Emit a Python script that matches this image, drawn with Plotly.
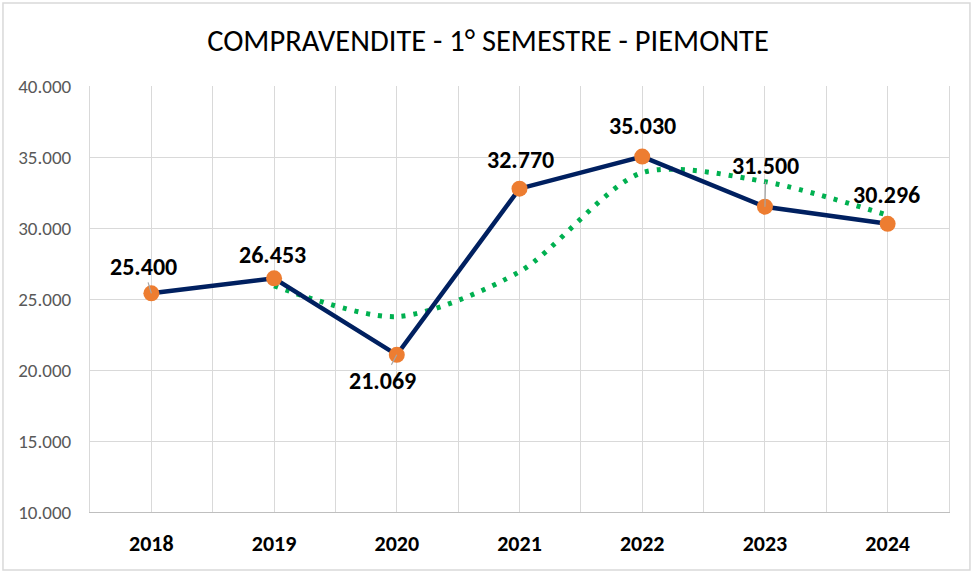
import plotly.graph_objects as go

years = [2018, 2019, 2020, 2021, 2022, 2023, 2024]
sales = [25400, 26453, 21069, 32770, 35030, 31500, 30296]
# media mobile (2 periodi)
trend_years = [2019, 2020, 2021, 2022, 2023, 2024]
trend = [25927, 23761, 26920, 33900, 33265, 30898]
labels = ["25.400", "26.453", "21.069", "32.770", "35.030", "31.500", "30.296"]
y_ticks = [10000, 15000, 20000, 25000, 30000, 35000, 40000]
y_ticktext = ["10.000", "15.000", "20.000", "25.000", "30.000", "35.000", "40.000"]

NAVY = "#002060"
ORANGE = "#ED7D31"
GREEN = "#00B050"
GRID = "#D9D9D9"
FONT = "Carlito, Calibri, 'Noto Sans', sans-serif"

fig = go.Figure()

fig.add_trace(go.Scatter(
    x=trend_years, y=trend,
    mode="lines",
    line=dict(color=GREEN, width=5, dash="4px,8px", shape="spline", smoothing=0.8),
    hoverinfo="skip",
))

fig.add_trace(go.Scatter(
    x=years, y=sales,
    mode="lines+markers",
    line=dict(color=NAVY, width=4.5),
    marker=dict(color=ORANGE, size=16),
))

# etichette dati (offset in pixel, linee guida dove Excel le mostra)
offsets = [(-8, -27), (-2, -24), (-14, 26), (1, -29), (0, -31), (1, -41), (-1, -29)]
leader = [True, False, True, False, False, True, False]
for x, y, t, (dx, dy), ld in zip(years, sales, labels, offsets, leader):
    fig.add_annotation(
        x=x, y=y, text=f"<b>{t}</b>",
        showarrow=ld, ax=dx, ay=dy,
        arrowhead=0, arrowwidth=1.2, arrowcolor="#A6A6A6", standoff=0,
        xshift=0 if ld else dx, yshift=0 if ld else -dy,
        font=dict(family=FONT, size=24, color="#000000"),
    )

fig.update_layout(
    title=dict(
        text="COMPRAVENDITE - 1° SEMESTRE - PIEMONTE",
        x=0.5, xref="container", xanchor="center",
        y=1 - 40 / 576, yref="container", yanchor="middle",
        font=dict(family=FONT, size=30.5, color="#000000"),
    ),
    width=976, height=576,
    showlegend=False,
    paper_bgcolor="#ffffff",
    plot_bgcolor="#ffffff",
    margin=dict(l=90, r=27, t=86, b=64),
    xaxis=dict(
        range=[2017.5, 2024.5],
        tickmode="array", tickvals=years, ticktext=[str(y) for y in years],
        showgrid=True, gridcolor=GRID, gridwidth=1,
        minor=dict(tick0=2017.5, dtick=1, showgrid=True, gridcolor=GRID, gridwidth=1),
        showline=True, linecolor="#BFBFBF", linewidth=1,
        ticks="", ticklabelstandoff=12,
        tickfont=dict(family=FONT, size=22, color="#000000", weight="bold"),
        zeroline=False, fixedrange=True,
    ),
    yaxis=dict(
        range=[10000, 40000],
        tickmode="array", tickvals=y_ticks, ticktext=y_ticktext,
        showgrid=True, gridcolor=GRID, gridwidth=1,
        showline=True, linecolor=GRID, linewidth=1, mirror=True,
        ticks="", ticklabelstandoff=14,
        tickfont=dict(family=FONT, size=19, color="#595959"),
        zeroline=False, fixedrange=True,
    ),
)

# cornice esterna del grafico
fig.add_shape(
    type="rect", xref="paper", yref="paper",
    x0=-0.1013, x1=1.0244, y0=-0.136, y1=1.1948,
    line=dict(color="#D9D9D9", width=1.5), fillcolor="rgba(0,0,0,0)",
    layer="below",
)

# niente margine del body, così la figura occupa esattamente la finestra
fig.write_html(
    "out.html",
    config={"displayModeBar": False},
    post_script="document.body.style.margin='0';",
)
